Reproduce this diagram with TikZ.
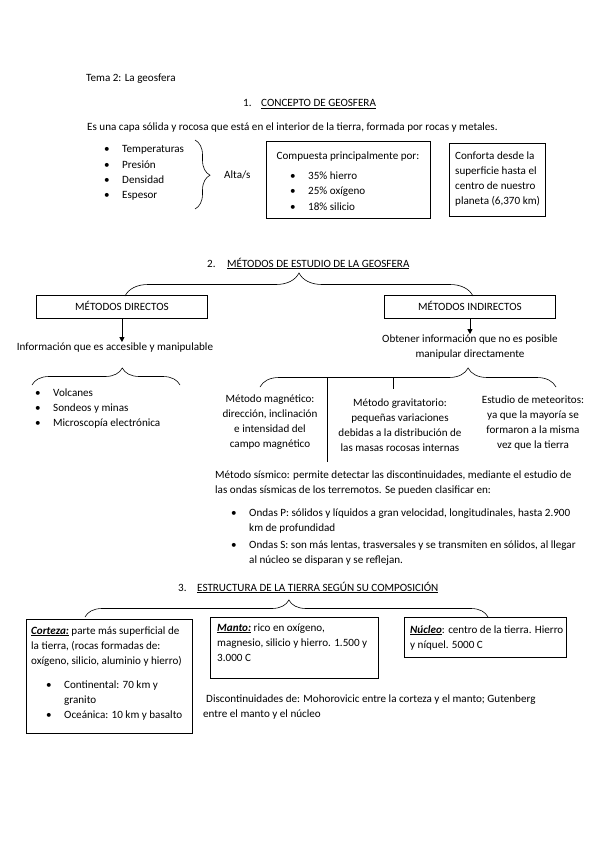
\documentclass[tikz,border=0pt]{standalone}
\usepackage{fontspec}
\setmainfont{Carlito}
\usetikzlibrary{arrows.meta, decorations.pathreplacing}
\tikzset{
  txt/.style={inner sep=0pt, anchor=base west, font=\fontsize{11.1}{15}\selectfont},
  ctxt/.style={txt, anchor=base, align=center},
  box/.style={draw, line width=0.9pt, inner sep=0pt, anchor=north west},
  arr/.style={-{Triangle[length=5pt, width=5pt]}, line width=0.7pt},
  brc/.style={decorate, line width=0.6pt, decoration={brace, amplitude=#1}},
}
\newcommand{\bul}{\makebox[18pt][l]{\textbullet}}
\begin{document}
\begin{tikzpicture}[x=1pt, y=-1pt]
    \useasboundingbox (0,0) rectangle (599,848);
    \node[txt] (tema) at (86,82) {Tema 2: La geosfera};
    \node[txt] (n1) at (243,107) {1.};
    \node[txt] (h1) at (261,107) {\underline{CONCEPTO DE GEOSFERA}};
    \node[txt] (def) at (87,131) {Es una capa sólida y rocosa que está en el interior de la tierra, formada por rocas y metales.};
    \node[txt] (temp) at (104,153) {\bul Temperaturas};
    \node[txt] (pres) at (104,168) {\bul Presión};
    \node[txt] (dens) at (104,183) {\bul Densidad};
    \node[txt] (esp) at (104,198) {\bul Espesor};
    \coordinate (b1a) at (195,140);
    \coordinate (b1b) at (195,209);
    \draw[brc=15pt, decoration={aspect=0.51}] (b1a) -- (b1b);
    \node[txt] (alta) at (224,178) {Alta/s};
    \node[box, minimum width=164pt, minimum height=77pt] (comp) at (266,141) {};
    \node[ctxt] (comptit) at (348,159) {Compuesta principalmente por:};
    \node[txt] (fe) at (290,179) {\bul 35\% hierro};
    \node[txt] (ox) at (290,194) {\bul 25\% oxígeno};
    \node[txt] (si) at (290,210) {\bul 18\% silicio};
    \node[box, minimum width=96pt, minimum height=73pt] (conf) at (449,143) {};
    \node[txt, align=left] (conftxt) at (455,204) {Conforta desde la\\superficie hasta el\\centro de nuestro\\planeta (6,370 km)};

    \node[txt] (n2) at (207,267) {2.};
    \node[txt] (h2) at (227,267) {\underline{MÉTODOS DE ESTUDIO DE LA GEOSFERA}};
    \coordinate (b2a) at (125,296);
    \coordinate (b2b) at (473,296);
    \draw[brc=23pt, decoration={aspect=0.5}] (b2a) -- (b2b);
    \node[box, minimum width=171pt, minimum height=23pt] (dir) at (36,295) {};
    \node[ctxt] (dirtxt) at (dir.center) [yshift=-3.5pt] {MÉTODOS DIRECTOS};
    \node[box, minimum width=171pt, minimum height=23pt] (ind) at (384,295) {};
    \node[ctxt] (indtxt) at (ind.center) [yshift=-3.5pt] {MÉTODOS INDIRECTOS};
    \node[ctxt] (acc) at (115,350) {Información que es accesible y manipulable};
    \node[ctxt] (obt) at (470,357) {Obtener información que no es posible\\manipular directamente};
    \draw[arr] (dir.south) -- (dir.south |- acc.north);
    \draw[arr] (ind.south) -- (ind.south |- obt.north);
    \coordinate (b3a) at (32,385);
    \coordinate (b3b) at (180,385);
    \draw[brc=17pt, decoration={aspect=0.61}] (b3a) -- (b3b);
    \node[txt] (volc) at (35,396) {\bul Volcanes};
    \node[txt] (sond) at (35,411) {\bul Sondeos y minas};
    \node[txt] (micro) at (35,426) {\bul Microscopía electrónica};
    \coordinate (b4a) at (260,387);
    \coordinate (b4b) at (556,387);
    \draw[brc=19pt, decoration={aspect=0.703}] (b4a) -- (b4b);
    \coordinate (sistop) at (327,377.5);
    \coordinate (sis) at (327,462);
    \draw[line width=0.6pt] (sistop) -- (sis);
    \coordinate (gravtop) at (393,377.5);
    \coordinate (grav) at (393,389);
    \draw[line width=0.6pt] (gravtop) -- (grav);
    \node[ctxt] (mag) at (270,447) {Método magnético:\\dirección, inclinación\\e intensidad del\\campo magnético};
    \node[ctxt] (gravtxt) at (400,451) {Método gravitatorio:\\pequeñas variaciones\\debidas a la distribución de\\las masas rocosas internas};
    \node[ctxt] (met) at (533,448) {Estudio de meteoritos:\\ya que la mayoría se\\formaron a la misma\\vez que la tierra};
    \node[txt, align=left] (sistxt) at (215,493) {Método sísmico: permite detectar las discontinuidades, mediante el estudio de\\las ondas sísmicas de los terremotos. Se pueden clasificar en:};
    \node[txt, align=left] (ondp) at (231,531) {\bul Ondas P: sólidos y líquidos a gran velocidad, longitudinales, hasta 2.900\\\hspace*{18pt}km de profundidad};
    \node[txt, align=left] (onds) at (231,563) {\bul Ondas S: son más lentas, trasversales y se transmiten en sólidos, al llegar\\\hspace*{18pt}al núcleo se disparan y se reflejan.};

    \node[txt] (n3) at (178,591) {3.};
    \node[txt] (h3) at (197,591) {\underline{ESTRUCTURA DE LA TIERRA SEGÚN SU COMPOSICIÓN}};
    \coordinate (b5a) at (85,617);
    \coordinate (b5b) at (488,617);
    \draw[brc=17pt, decoration={aspect=0.506}] (b5a) -- (b5b);
    \node[box, minimum width=166pt, minimum height=114pt] (cort) at (26,619) {};
    \node[txt, align=left] (corttxt) at (31,664) {\underline{\textbf{\textit{Corteza:}}} parte más superficial de\\la tierra, (rocas formadas de:\\oxígeno, silicio, aluminio y hierro)};
    \node[txt, align=left] (cont) at (46,703) {\bul Continental: 70 km y\\\hspace*{18pt}granito};
    \node[txt] (oce) at (46,718) {\bul Oceánica: 10 km y basalto};
    \node[box, minimum width=168pt, minimum height=61pt] (mant) at (210,617) {};
    \node[txt, align=left] (manttxt) at (217,661) {\underline{\textbf{\textit{Manto:}}} rico en oxígeno,\\magnesio, silicio y hierro. 1.500 y\\3.000 C};
    \node[box, minimum width=162pt, minimum height=40pt] (nuc) at (404,617) {};
    \node[txt, align=left] (nuctxt) at (410,648) {\underline{\textbf{\textit{Núcleo}}}: centro de la tierra. Hierro\\y níquel. 5000 C};
    \node[txt, align=left] (disc) at (206,717) {Discontinuidades de: Mohorovicic entre la corteza y el manto; Gutenberg\\\hspace*{-3pt}entre el manto y el núcleo};
\end{tikzpicture}
\end{document}
